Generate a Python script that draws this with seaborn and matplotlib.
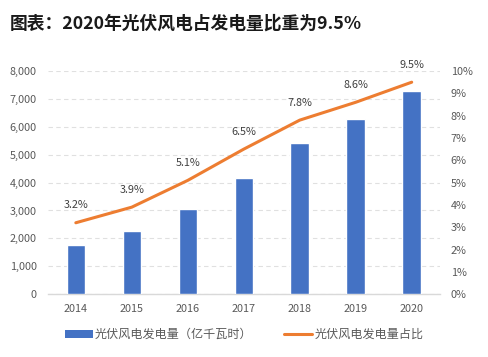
import numpy as np
import pandas as pd
import matplotlib
matplotlib.use("Agg")
import matplotlib.pyplot as plt
import seaborn as sns
from matplotlib.patches import Patch
from matplotlib.lines import Line2D

years = ["2014", "2015", "2016", "2017", "2018", "2019", "2020"]
generation = [1750, 2250, 3050, 4150, 5420, 6290, 7270]
share = [3.2, 3.9, 5.1, 6.5, 7.8, 8.6, 9.5]
left_ticks = [0, 1000, 2000, 3000, 4000, 5000, 6000, 7000, 8000]
right_ticks = [0, 1, 2, 3, 4, 5, 6, 7, 8, 9, 10]
title = "图表：2020年光伏风电占发电量比重为9.5%"
bar_label = "光伏风电发电量（亿千瓦时）"
line_label = "光伏风电发电量占比"

sns.set_theme(style="white")
plt.rcParams['font.family'] = ['Noto Sans CJK SC', 'DejaVu Sans']

BLUE = "#4472C4"
ORANGE = "#ED7D31"
GRAY = "#595959"

df = pd.DataFrame({"year": years, "gen": generation, "share": share})

fig = plt.figure(figsize=(4.88, 3.57), dpi=100)
ax = fig.add_axes([0.098, 0.176, 0.803, 0.625])

sns.barplot(data=df, x="year", y="gen", color=BLUE, width=0.33, ax=ax,
            saturation=1, zorder=3)
ax.set_ylim(0, 8000)
ax.set_yticks(left_ticks)
ax.set_yticklabels([f"{v:,}" for v in left_ticks], fontsize=7.8, color=GRAY)
ax.set_xlim(-0.5, len(years) - 0.5)
ax.tick_params(axis="x", labelsize=7.8, colors=GRAY, length=0, pad=7)
ax.tick_params(axis="y", length=0, pad=8)
ax.set_xlabel("")
ax.set_ylabel("")
ax.yaxis.grid(True, linestyle=(0, (4, 3)), color="#E0E0E0", linewidth=0.8, zorder=0)
for s in ["top", "right", "left"]:
    ax.spines[s].set_visible(False)
ax.spines["bottom"].set_color("#D9D9D9")
ax.spines["bottom"].set_linewidth(1.0)

ax2 = ax.twinx()
pos = np.arange(len(years))
sns.lineplot(x=pos, y=share, ax=ax2, color=ORANGE, linewidth=2.2, zorder=4)
ax2.set_ylim(0, 10)
ax2.set_yticks(right_ticks)
ax2.set_yticklabels([f"{v}%" for v in right_ticks], fontsize=7.8, color=GRAY)
ax2.tick_params(axis="y", length=0, pad=8)
ax2.set_ylabel("")
for s in ["top", "right", "left", "bottom"]:
    ax2.spines[s].set_visible(False)
for x, v in zip(pos, share):
    ax2.annotate(f"{v}%", (x, v), xytext=(0, 9), textcoords="offset points",
                 ha="center", va="bottom", fontsize=7.8, color="#404040")

fig.text(0.02, 0.935, title, fontsize=12.8, fontweight="bold", color="#1a1a1a",
         ha="left", va="center")

handles = [Patch(facecolor=BLUE, edgecolor="none"),
           Line2D([0], [0], color=ORANGE, linewidth=2.2)]
fig.legend(handles, [bar_label, line_label], loc="center", ncol=2,
           bbox_to_anchor=(0.5, 0.063), frameon=False, fontsize=8.7,
           labelcolor=GRAY, handlelength=2.3, handleheight=0.7,
           handletextpad=0.2, columnspacing=2.6)

fig.savefig("out.png", dpi=100)
